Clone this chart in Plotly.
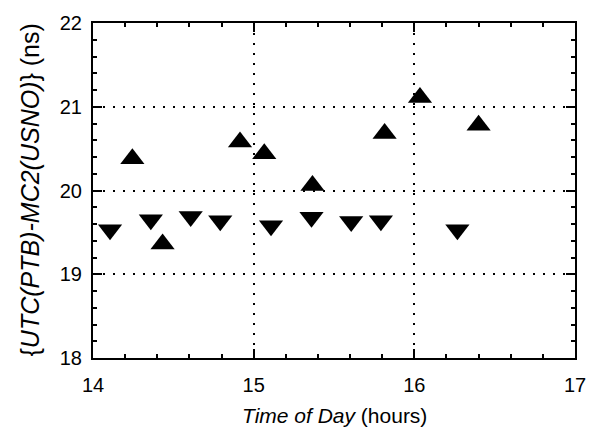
import plotly.graph_objects as go

# Time of day (hours) and UTC(PTB)-MC2(USNO) (ns)
up_time = [14.245, 14.433, 14.915, 15.066, 15.366, 15.815, 16.035, 16.40]
up_value = [20.38, 19.36, 20.58, 20.44, 20.06, 20.68, 21.11, 20.78]

down_time = [14.106, 14.36, 14.608, 14.792, 15.108, 15.36, 15.607, 15.792, 16.268]
down_value = [19.53, 19.65, 19.69, 19.64, 19.58, 19.68, 19.63, 19.64, 19.53]

x_ticks = [14, 15, 16, 17]
y_ticks = [18, 19, 20, 21, 22]

FONT = "Liberation Sans, Arial, sans-serif"

fig = go.Figure()
fig.add_trace(go.Scatter(x=up_time, y=up_value, mode="markers",
                         marker=dict(symbol="triangle-up", size=21, color="black",
                                     line=dict(width=0)),
                         showlegend=False))
fig.add_trace(go.Scatter(x=down_time, y=down_value, mode="markers",
                         marker=dict(symbol="triangle-down", size=21, color="black",
                                     line=dict(width=0)),
                         showlegend=False))

axis_common = dict(
    showline=True, linewidth=2, linecolor="black", mirror="allticks",
    ticks="inside", ticklen=9, tickwidth=1.5, tickcolor="black",
    showgrid=True, gridcolor="black", gridwidth=2, griddash="2px,8px",
    zeroline=False, ticklabeloverflow="allow",
    tickfont=dict(family=FONT, size=20, color="black"),
    minor=dict(ticks="inside", ticklen=4, tickwidth=1.5, tickcolor="black",
               dtick=0.2, showgrid=False),
)

fig.update_xaxes(range=[14, 17], tickvals=x_ticks, ticklabelstandoff=8, **axis_common)
fig.update_yaxes(range=[18, 22], tickvals=y_ticks, ticklabelstandoff=5, **axis_common)

fig.add_annotation(xref="paper", yref="paper", x=0.5, y=0, yshift=-57,
                   xanchor="center", yanchor="middle", showarrow=False,
                   text="<i>Time of Day</i> (hours)",
                   font=dict(family=FONT, size=21, color="black"))
fig.add_annotation(xref="paper", yref="paper", x=0, y=0.5, xshift=-64,
                   xanchor="center", yanchor="middle", showarrow=False, textangle=-90,
                   text="{<i>UTC(PTB)-MC2(USNO)</i>} (ns)",
                   font=dict(family=FONT, size=25, color="black"))

fig.update_layout(
    width=598, height=438,
    margin=dict(l=93, r=15, t=18, b=80),
    paper_bgcolor="white", plot_bgcolor="white",
)

fig.write_html("out.html",
               config={"displayModeBar": False},
               post_script="document.body.style.margin='0px';"
                           "document.body.style.overflow='hidden';")
